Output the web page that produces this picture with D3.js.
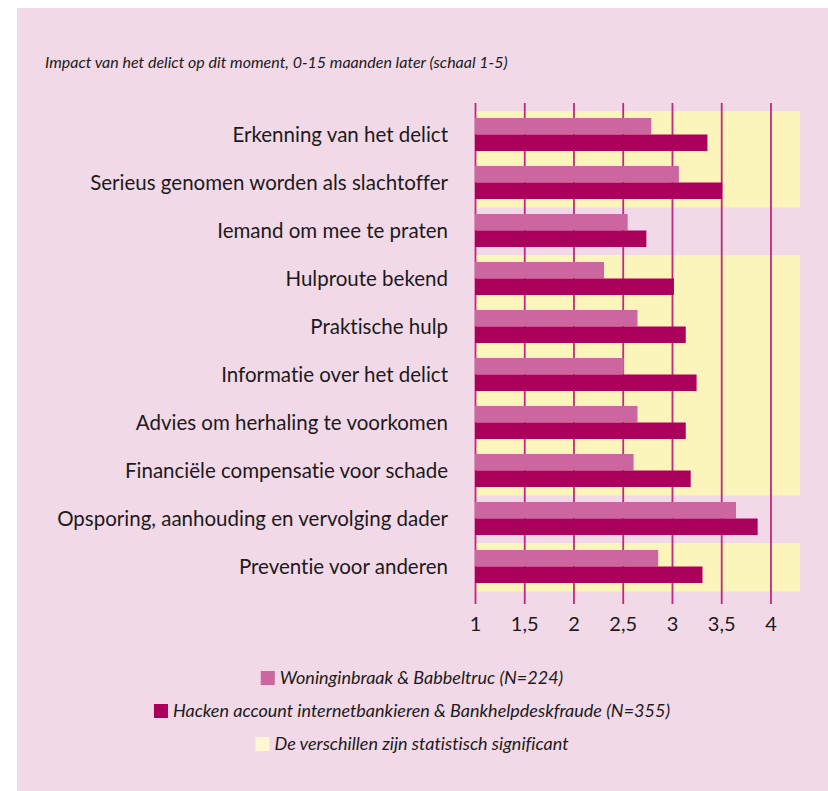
<!DOCTYPE html>
<html lang="nl">

<head>
    <meta charset="UTF-8">
    <script src='https://cdnjs.cloudflare.com/ajax/libs/d3/7.8.5/d3.min.js'></script>
    <title>Impact van het delict</title>
    <style>
        body { margin: 0; background: #fff; }
        svg text { font-family: Lato, "Noto Sans", sans-serif; fill: #1d1a1c; font-variant-ligatures: none; }
    </style>
</head>

<body>
    <div id='plot'></div>
</body>

<script>
    // data
    const categories = [
        "Erkenning van het delict",
        "Serieus genomen worden als slachtoffer",
        "Iemand om mee te praten",
        "Hulproute bekend",
        "Praktische hulp",
        "Informatie over het delict",
        "Advies om herhaling te voorkomen",
        "Financiële compensatie voor schade",
        "Opsporing, aanhouding en vervolging dader",
        "Preventie voor anderen"
    ];
    const woning = [2.79, 3.07, 2.55, 2.31, 2.65, 2.51, 2.65, 2.61, 3.65, 2.86];
    const hacken = [3.36, 3.51, 2.74, 3.02, 3.14, 3.25, 3.14, 3.19, 3.87, 3.31];
    const significant = [true, true, false, true, true, true, true, true, false, true];
    const tickValues = [1, 1.5, 2, 2.5, 3, 3.5, 4];
    const legendLabels = [
        "Woninginbraak & Babbeltruc (N=224)",
        "Hacken account internetbankieren & Bankhelpdeskfraude (N=355)",
        "De verschillen zijn statistisch significant"
    ];
    const title = "Impact van het delict op dit moment, 0-15 maanden later (schaal 1-5)";

    const colLight = "#cb66a0", colDark = "#aa005c", colSig = "#fcf5bb";

    var W = 828, H = 791;
    var svg = d3.select("#plot").append("svg")
        .attr("width", W).attr("height", H);

    // pink panel
    svg.append("rect")
        .attr("x", 17).attr("y", 8)
        .attr("width", W - 17).attr("height", H - 8)
        .attr("fill", "#f1d9e7");

    svg.append("text")
        .attr("x", 45).attr("y", 68)
        .style("font-style", "italic")
        .style("font-size", "16px")
        .text(title);

    // scales
    var x = d3.scaleLinear().domain([1, 4.3]).range([475, 800]);
    var y = d3.scaleBand().domain(categories).range([111, 591]);
    var barH = 16.5;

    // significance bands
    svg.append("g")
        .selectAll("rect")
        .data(categories.filter((c, i) => significant[i]))
        .join("rect")
        .attr("x", x(1))
        .attr("y", d => y(d))
        .attr("width", x(4.3) - x(1))
        .attr("height", y.bandwidth() + 0.5)
        .attr("fill", colSig);

    // axis + gridlines
    var gridTop = 103, gridBottom = 604;
    var axis = svg.append("g")
        .attr("transform", "translate(0," + gridBottom + ")")
        .call(d3.axisBottom(x)
            .tickValues(tickValues)
            .tickSizeInner(-(gridBottom - gridTop))
            .tickSizeOuter(0)
            .tickPadding(13)
            .tickFormat(d => String(d).replace(".", ",")));
    axis.select(".domain").remove();
    axis.selectAll(".tick line")
        .attr("stroke", "#c2277c")
        .attr("stroke-width", 1.8);
    axis.selectAll(".tick text")
        .style("font-size", "20px")
        .attr("fill", "#1d1a1c");

    // bars
    var rows = categories.map((c, i) => ({ c: c, w: woning[i], h: hacken[i] }));
    svg.append("g")
        .selectAll("rect")
        .data(rows)
        .join("rect")
        .attr("x", x(1))
        .attr("y", d => y(d.c) + 7)
        .attr("width", d => x(d.w) - x(1))
        .attr("height", barH)
        .attr("fill", colLight);
    svg.append("g")
        .selectAll("rect")
        .data(rows)
        .join("rect")
        .attr("x", x(1))
        .attr("y", d => y(d.c) + 7 + barH)
        .attr("width", d => x(d.h) - x(1))
        .attr("height", barH)
        .attr("fill", colDark);

    // category labels
    svg.append("g")
        .selectAll("text")
        .data(categories)
        .join("text")
        .attr("x", 448)
        .attr("y", d => y(d) + y.bandwidth() / 2)
        .attr("dy", "0.36em")
        .attr("text-anchor", "end")
        .style("font-size", "20.5px")
        .text(d => d);

    // legend, each line centred
    var legCols = [colLight, colDark, "#fdf7d2"];
    legendLabels.forEach((lab, i) => {
        var g = svg.append("g");
        var cy = 678 + i * 33;
        g.append("rect")
            .attr("x", 0).attr("y", cy - 7)
            .attr("width", 14).attr("height", 14)
            .attr("fill", legCols[i]);
        var t = g.append("text")
            .attr("x", 19).attr("y", cy)
            .attr("dy", "0.36em")
            .style("font-style", "italic")
            .style("font-size", "18px")
            .text(lab);
        var w = 19 + t.node().getComputedTextLength();
        g.attr("transform", "translate(" + (412 - w / 2) + ",0)");
    });
</script>

</html>
